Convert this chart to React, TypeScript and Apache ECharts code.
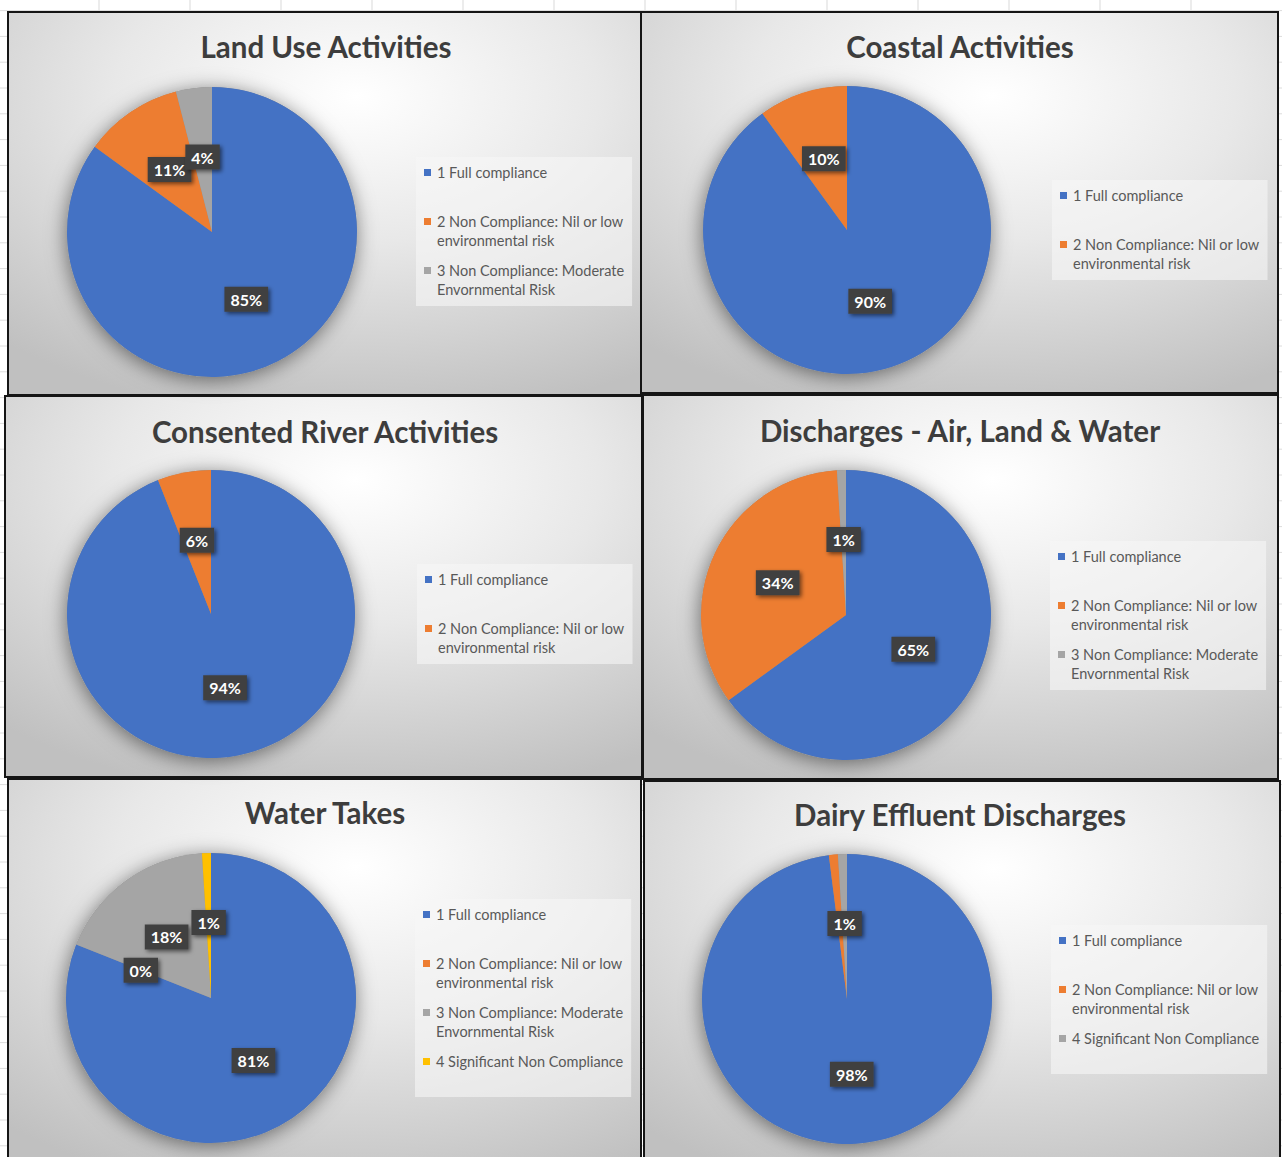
import { useEffect, useRef } from 'react';
import * as echarts from 'echarts';

// Compliance categories
const CAT_FULL = '1 Full compliance';
const CAT_LOW = '2 Non Compliance: Nil or low environmental risk';
const CAT_MOD = '3 Non Compliance: Moderate Envornmental Risk';
const CAT_SIG = '4 Significant Non Compliance';

const panelTitles = [
  'Land Use Activities',
  'Coastal Activities',
  'Consented River Activities',
  'Discharges - Air, Land & Water',
  'Water Takes',
  'Dairy Effluent Discharges',
];

const landUseCategories = [CAT_FULL, CAT_LOW, CAT_MOD];
const landUseValues = [85, 11, 4];

const coastalCategories = [CAT_FULL, CAT_LOW];
const coastalValues = [90, 10];

const riverCategories = [CAT_FULL, CAT_LOW];
const riverValues = [94, 6];

const dischargeCategories = [CAT_FULL, CAT_LOW, CAT_MOD];
const dischargeValues = [65, 34, 1];

const waterCategories = [CAT_FULL, CAT_LOW, CAT_MOD, CAT_SIG];
const waterValues = [81, 0, 18, 1];

const dairyCategories = [CAT_FULL, CAT_LOW, CAT_SIG];
const dairyValues = [98, 1, 1];

// Legend text, wrapped the way the legend boxes show it
const legendLines: Record<string, string[]> = {
  [CAT_FULL]: ['1 Full compliance'],
  [CAT_LOW]: ['2 Non Compliance: Nil or low', 'environmental risk'],
  [CAT_MOD]: ['3 Non Compliance: Moderate', 'Envornmental Risk'],
  [CAT_SIG]: ['4 Significant Non Compliance'],
};

// ---- styling & layout ----
const BLUE = '#4472C4';
const ORANGE = '#ED7D31';
const GRAY = '#A5A5A5';
const YELLOW = '#FFC000';
const FONT = 'Lato, "Open Sans", sans-serif';
const LEGEND_LINE = 19;

type Panel = {
  title: string;
  categories: string[];
  values: number[];
  colors: string[];
  box: [number, number, number, number];
  titlePos: [number, number];
  center: [number, number];
  radius: number;
  legendPos: [number, number];
  hideLabel?: number[];
};

const panels: Panel[] = [
  {
    title: panelTitles[0], categories: landUseCategories, values: landUseValues,
    colors: [BLUE, ORANGE, GRAY],
    box: [8, 12, 633, 383], titlePos: [326, 46], center: [212, 232], radius: 145, legendPos: [416, 157],
  },
  {
    title: panelTitles[1], categories: coastalCategories, values: coastalValues,
    colors: [BLUE, ORANGE],
    box: [641, 12, 637, 381], titlePos: [960, 46], center: [847, 230], radius: 144, legendPos: [1052, 180],
  },
  {
    title: panelTitles[2], categories: riverCategories, values: riverValues,
    colors: [BLUE, ORANGE],
    box: [5, 396, 637, 381], titlePos: [325, 431], center: [211, 614], radius: 144, legendPos: [417, 564],
  },
  {
    title: panelTitles[3], categories: dischargeCategories, values: dischargeValues,
    colors: [BLUE, ORANGE, GRAY],
    box: [643, 395, 635, 384], titlePos: [960, 430], center: [846, 615], radius: 145, legendPos: [1050, 541],
  },
  {
    title: panelTitles[4], categories: waterCategories, values: waterValues,
    colors: [BLUE, ORANGE, GRAY, YELLOW],
    box: [8, 779, 633, 400], titlePos: [325, 812], center: [211, 998], radius: 145, legendPos: [415, 899],
  },
  {
    title: panelTitles[5], categories: dairyCategories, values: dairyValues,
    colors: [BLUE, ORANGE, GRAY],
    box: [644, 781, 636, 400], titlePos: [960, 814], center: [847, 999], radius: 145, legendPos: [1051, 925],
    hideLabel: [1],
  },
];

const W = 1282;
const H = 1157;

function buildOption() {
  const graphic: any[] = [];

  // faint worksheet cell lines behind the chart panels
  for (let x = 8 + 91; x < W; x += 91) {
    graphic.push({ type: 'line', z: -20, silent: true, shape: { x1: x, y1: 0, x2: x, y2: H }, style: { stroke: '#d9d9d9', lineWidth: 1 } });
  }
  for (let y = 10.6; y < H; y += 25.8) {
    graphic.push({ type: 'line', z: -20, silent: true, shape: { x1: 0, y1: y, x2: W, y2: y }, style: { stroke: '#dcdcdc', lineWidth: 1 } });
  }

  panels.forEach((p) => {
    const [x, y, w, h] = p.box;
    graphic.push({
      type: 'rect', z: -10, silent: true,
      shape: { x, y, width: w, height: h },
      style: {
        fill: new echarts.graphic.RadialGradient(0.55, 0.22, 0.85, [
          { offset: 0, color: '#ffffff' },
          { offset: 0.45, color: '#e8e8e8' },
          { offset: 1, color: '#c0c0c0' },
        ]),
      },
    });
  });
  panels.forEach((p) => {
    const [x, y, w, h] = p.box;
    graphic.push({
      type: 'rect', z: 100, silent: true,
      shape: { x, y, width: w, height: h },
      style: { fill: 'none', stroke: '#151515', lineWidth: 2 },
    });
  });

  const title = panels.map((p) => ({
    text: p.title,
    left: p.titlePos[0],
    top: p.titlePos[1],
    textAlign: 'center',
    textVerticalAlign: 'middle',
    padding: 0,
    textStyle: { fontFamily: FONT, fontWeight: 'bold', fontSize: 29.5, color: '#3d3d3d' },
  }));

  const legend = panels.map((p) => {
    const rich: Record<string, any> = {
      t: { fontFamily: FONT, fontSize: 14.5, color: '#595959', lineHeight: LEGEND_LINE },
      gap: { width: 6, lineHeight: LEGEND_LINE },
      ind: { width: 13, lineHeight: LEGEND_LINE },
    };
    p.colors.forEach((c, j) => {
      rich['sq' + j] = { width: 7, height: 7, backgroundColor: c, lineHeight: LEGEND_LINE };
    });
    return {
      orient: 'vertical',
      left: p.legendPos[0],
      top: p.legendPos[1],
      data: p.categories.map((c) => ({ name: c })),
      itemWidth: 0,
      itemHeight: 0,
      itemGap: 15,
      padding: [8, 8, 9, 3],
      backgroundColor: 'rgba(246,246,246,0.6)',
      selectedMode: false,
      textStyle: { rich },
      formatter: (name: string) => {
        const j = p.categories.indexOf(name);
        const lines = legendLines[name];
        const second = lines[1] ? lines[1] : ' ';
        return `{sq${j}|}{gap|}{t|${lines[0]}}\n{ind|}{t|${second}}`;
      },
    };
  });

  const series: any[] = [];
  panels.forEach((p, i) => {
    // soft drop shadow under each pie
    series.push({
      type: 'pie',
      name: 'pie-shadow-' + i,
      center: p.center,
      radius: p.radius,
      silent: true,
      z: 1,
      label: { show: false },
      labelLine: { show: false },
      emphasis: { disabled: true },
      itemStyle: {
        color: '#8f8f8f',
        shadowBlur: 20,
        shadowColor: 'rgba(0,0,0,0.5)',
        shadowOffsetX: -1,
        shadowOffsetY: 3,
      },
      data: [{ value: 1, name: 'shadow' }],
    });
    series.push({
      type: 'pie',
      name: p.title,
      center: p.center,
      radius: p.radius,
      startAngle: 90,
      clockwise: true,
      percentPrecision: 0,
      avoidLabelOverlap: false,
      labelLayout: { hideOverlap: false },
      silent: true,
      z: 3,
      emphasis: { disabled: true },
      itemStyle: { borderWidth: 0 },
      label: {
        show: true,
        position: 'inside',
        formatter: '{d}%',
        fontFamily: FONT,
        fontWeight: 'bold',
        fontSize: 16,
        color: '#ffffff',
        backgroundColor: '#404040',
        padding: [5, 6, 4, 6],
        shadowBlur: 4,
        shadowColor: 'rgba(0,0,0,0.55)',
        shadowOffsetX: 2,
        shadowOffsetY: 2,
      },
      labelLine: { show: false },
      data: p.values.map((v, j) => {
        const item: any = { value: v, name: p.categories[j], itemStyle: { color: p.colors[j] } };
        if (p.hideLabel && p.hideLabel.includes(j)) item.label = { show: false };
        return item;
      }),
    });
  });

  return {
    animation: false,
    backgroundColor: '#ffffff',
    graphic,
    title,
    legend,
    series,
  };
}

export default function App() {
  const ref = useRef<HTMLDivElement>(null);
  useEffect(() => {
    if (!ref.current) return;
    const chart = echarts.init(ref.current, undefined, { renderer: 'svg' });
    chart.setOption(buildOption() as any);
    return () => chart.dispose();
  }, []);
  return (
    <div
      ref={ref}
      style={{ position: 'absolute', left: 0, top: 0, width: W, height: H }}
    />
  );
}
